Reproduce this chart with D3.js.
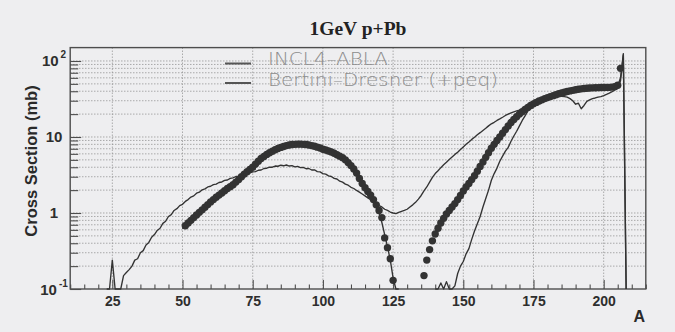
<!DOCTYPE html>
<html>
<head>
<meta charset="utf-8">
<script src="https://cdn.jsdelivr.net/npm/d3@7"></script>
<style>
  html, body { margin: 0; padding: 0; background: #eeeef0; }
  svg { display: block; }
</style>
</head>
<body>
<svg id="chart" width="675" height="332"></svg>
<script>
// ---------- data ----------
const titleText = "1GeV p+Pb";
const seriesNames = ["INCL4\u2013ABLA", "Bertini\u2013Dresner (+peq)"];
const xAxisLabel = "A";
const yAxisLabel = "Cross Section (mb)";

const xTickValues = [25, 50, 75, 100, 125, 150, 175, 200];
const yTickValues = [0.1, 1, 10, 100];
const yTickBase = ["10", "1", "10", "10"];
const yTickExp = ["-1", "", "", "2"];

// INCL4-ABLA, fission part (A = 50 ... 127), mb
const incl4FissionFirstA = 50;
const incl4Fission = [
  0.62, 0.68, 0.73, 0.80, 0.86, 0.95, 1.00, 1.10, 1.17, 1.28,
  1.36, 1.48, 1.57, 1.72, 1.80, 1.97, 2.05, 2.25, 2.33, 2.55,
  2.70, 2.98, 3.20, 3.45, 3.72, 3.95, 4.35, 4.70, 5.15, 5.50,
  5.85, 6.20, 6.45, 6.80, 7.00, 7.30, 7.45, 7.70, 7.80, 7.95,
  7.95, 8.10, 8.00, 8.05, 7.90, 7.85, 7.65, 7.55, 7.30, 7.20,
  6.85, 6.75, 6.50, 6.35, 6.05, 5.85, 5.55, 5.30, 4.95, 4.60,
  4.15, 3.80, 3.30, 2.90, 2.45, 2.20, 1.88, 1.70, 1.45, 1.25,
  1.00, 0.75, 0.52, 0.36, 0.24, 0.14, 0.085, 0
];

// INCL4-ABLA, spallation residues (A = 140 ... 208), mb
const incl4ResidueFirstA = 140;
const incl4Residue = [
  0, 0, 0.12, 0.09, 0.125, 0, 0, 0.11, 0.16, 0.20,
  0.23, 0.29, 0.34, 0.45, 0.58, 0.72, 0.90, 1.20, 1.55, 2.00,
  2.70, 3.30, 3.90, 4.80, 5.60, 6.50, 7.30, 8.80, 10.3, 11.9,
  14.0, 16.5, 19.0, 22.0, 25.5, 28.0, 29.3, 30.2, 31.0, 32.0,
  33.0, 34.0, 35.0, 36.0, 36.8, 37.6, 38.4, 39.2, 40.0, 40.6,
  41.2, 41.8, 42.2, 42.6, 43.0, 43.2, 43.4, 43.5, 43.6, 43.8,
  44.0, 44.2, 44.4, 44.6, 45.5, 47.0, 60.0, 125.0, 0
];

// Bertini-Dresner (+peq), A = 23 ... 208, mb
const bertiniFirstA = 23;
const bertini = [
  0, 0, 0.24, 0, 0, 0, 0.15, 0.165, 0.18, 0.20,
  0.24, 0.25, 0.30, 0.32, 0.38, 0.41, 0.48, 0.52, 0.59, 0.63,
  0.73, 0.78, 0.90, 0.95, 1.08, 1.14, 1.25, 1.30, 1.42, 1.50,
  1.62, 1.68, 1.82, 1.88, 2.02, 2.08, 2.20, 2.25, 2.36, 2.40,
  2.52, 2.56, 2.68, 2.72, 2.86, 2.90, 3.02, 3.06, 3.18, 3.20,
  3.33, 3.36, 3.48, 3.50, 3.65, 3.68, 3.85, 3.88, 4.02, 4.00,
  4.15, 4.12, 4.25, 4.18, 4.28, 4.15, 4.20, 4.05, 4.10, 3.95,
  3.98, 3.82, 3.85, 3.68, 3.70, 3.50, 3.48, 3.30, 3.25, 3.08,
  3.02, 2.85, 2.80, 2.62, 2.55, 2.40, 2.32, 2.18, 2.10, 1.98,
  1.88, 1.78, 1.68, 1.58, 1.50, 1.40, 1.33, 1.25, 1.20, 1.12,
  1.08, 1.03, 1.00, 0.98, 1.02, 1.05, 1.08, 1.12, 1.20, 1.28,
  1.38, 1.52, 1.70, 1.95, 2.20, 2.55, 2.95, 3.30, 3.60, 3.95,
  4.30, 4.65, 5.05, 5.45, 5.90, 6.30, 6.85, 7.40, 8.00, 8.60,
  9.30, 9.90, 10.7, 11.4, 12.2, 13.0, 14.0, 14.9, 15.6, 16.5,
  17.3, 18.2, 19.2, 20.0, 20.8, 21.4, 22.0, 22.6, 23.3, 24.0,
  25.0, 26.0, 27.2, 28.3, 29.4, 30.5, 31.4, 32.3, 33.0, 33.8,
  34.3, 34.6, 34.4, 34.0, 33.5, 32.0, 30.0, 27.0, 27.8, 23.5,
  26.0, 29.5, 30.8, 32.0, 32.6, 33.5, 34.0, 35.0, 36.3, 37.8,
  39.5, 41.5, 43.5, 55.0, 120.0, 0
];

// Measured cross sections: fission fragments (A = 51 ... 125), mb
const expFissionFirstA = 51;
const expFission = [
  0.68, 0.74, 0.80, 0.87, 0.94, 1.02, 1.10, 1.19, 1.29, 1.40,
  1.50, 1.61, 1.72, 1.83, 1.96, 2.10, 2.22, 2.35, 2.55, 2.75,
  3.00, 3.25, 3.50, 3.75, 4.00, 4.40, 4.80, 5.20, 5.55, 5.90,
  6.20, 6.50, 6.80, 7.05, 7.30, 7.50, 7.70, 7.85, 7.95, 8.00,
  8.05, 8.05, 8.00, 7.95, 7.85, 7.70, 7.55, 7.35, 7.15, 6.90,
  6.75, 6.55, 6.35, 6.10, 5.85, 5.60, 5.35, 5.00, 4.60, 4.20,
  3.80, 3.35, 2.85, 2.45, 2.15, 1.92, 1.72, 1.50, 1.28, 1.08,
  0.87, 0.47, 0.35, 0.25, 0.13
];

// Measured cross sections: spallation residues (A = 136 ... 206), mb
const expResidueFirstA = 136;
const expResidue = [
  0.15, 0.24, 0.33, 0.43, 0.53, 0.63, 0.74, 0.85, 0.97, 1.08,
  1.20, 1.33, 1.50, 1.70, 1.95, 2.20, 2.45, 2.75, 3.10, 3.55,
  4.10, 4.70, 5.40, 6.20, 7.10, 8.00, 9.00, 10.0, 11.2, 12.5,
  14.0, 15.5, 17.0, 18.5, 20.0, 21.5, 23.0, 24.5, 26.0, 27.3,
  28.5, 29.7, 30.8, 32.0, 33.0, 34.0, 35.0, 36.0, 37.0, 38.0,
  38.8, 39.6, 40.4, 41.1, 41.8, 42.4, 43.0, 43.4, 43.8, 44.1,
  44.3, 44.5, 44.6, 44.7, 44.8, 44.9, 45.0, 45.3, 46.0, 48.0,
  80.0
];

// ---------- layout ----------
const svg = d3.select("#chart");
const ink = "#333333";
const frameInk = "#4d4d4d";
const gridInk = "#8e8e8e";

const x = d3.scaleLinear().domain([10, 215]).range([70.2, 645.8]);
const y = d3.scaleLog().domain([0.1, 150]).range([289, 47.6]).clamp(true);
const [x0, x1] = x.range();
const [yB, yT] = y.range();

const toPoints = (firstA, values) => values.map((v, i) => ({ a: firstA + i, v }));
const yOf = v => y(Math.max(v, y.domain()[0]));

// ---------- grid ----------
const minorY = [];
[0.1, 1, 10].forEach(d => { for (let k = 1; k <= 9; k++) minorY.push(k * d); });
minorY.push(100);
const gridY = minorY.filter(v => v > 0.1);

const grid = svg.append("g");
grid.selectAll("line.hg").data(gridY).join("line")
  .attr("x1", x0).attr("x2", x1)
  .attr("y1", d => y(d)).attr("y2", d => y(d))
  .attr("stroke", gridInk).attr("stroke-width", 0.9)
  .attr("stroke-dasharray", "1.2,1.8");
grid.selectAll("line.vg").data(xTickValues).join("line")
  .attr("x1", d => x(d)).attr("x2", d => x(d))
  .attr("y1", yT).attr("y2", yB)
  .attr("stroke", gridInk).attr("stroke-width", 0.9)
  .attr("stroke-dasharray", "1.2,1.8");

// ---------- axes ----------
const minorX = d3.range(10, 216, 5).filter(v => !xTickValues.includes(v));
svg.append("g").attr("transform", `translate(0,${yB})`)
  .call(d3.axisBottom(x).tickValues(minorX).tickSize(-4.5).tickFormat(""))
  .call(g => g.select(".domain").remove())
  .call(g => g.selectAll("line").attr("stroke", frameInk).attr("stroke-width", 1.1));

svg.append("g").attr("transform", `translate(0,${yB})`)
  .call(d3.axisBottom(x).tickValues(xTickValues).tickSizeInner(-9).tickSizeOuter(0).tickPadding(7.5))
  .call(g => g.select(".domain").remove())
  .call(g => g.selectAll("line").attr("stroke", frameInk).attr("stroke-width", 1.1))
  .call(g => g.selectAll("text")
    .attr("fill", "#2e2e2e")
    .style("font-family", "'Liberation Sans', Arial, sans-serif")
    .style("font-weight", "bold").style("font-size", "14px"));

svg.append("g").attr("transform", `translate(${x0},0)`)
  .call(d3.axisLeft(y).tickValues(minorY.filter(v => !yTickValues.includes(v))).tickSize(-8).tickFormat(""))
  .call(g => g.select(".domain").remove())
  .call(g => g.selectAll("line").attr("stroke", frameInk).attr("stroke-width", 1.1));

svg.append("g").attr("transform", `translate(${x0},0)`)
  .call(d3.axisLeft(y).tickValues(yTickValues).tickSize(-11).tickFormat(""))
  .call(g => g.select(".domain").remove())
  .call(g => g.selectAll("line").attr("stroke", frameInk).attr("stroke-width", 1.1));

// y tick labels with powers of ten
const yLab = svg.append("g")
  .style("font-family", "'Liberation Sans', Arial, sans-serif")
  .style("font-weight", "bold").attr("fill", "#2e2e2e");
yTickValues.forEach((v, i) => {
  const t = yLab.append("text")
    .attr("x", 54).attr("y", y(v) + 5.5)
    .attr("text-anchor", "middle")
    .style("font-size", "15px");
  t.append("tspan").text(yTickBase[i]);
  if (yTickExp[i]) {
    t.append("tspan").text(yTickExp[i])
      .attr("dx", 2).attr("dy", -8)
      .style("font-size", "10px");
  }
});

// frame
svg.append("rect")
  .attr("x", x0).attr("y", yT)
  .attr("width", x1 - x0).attr("height", yB - yT)
  .attr("fill", "none").attr("stroke", frameInk).attr("stroke-width", 1.4);

// ---------- measured points ----------
const dots = svg.append("g").attr("fill", "#333333");
[toPoints(expFissionFirstA, expFission), toPoints(expResidueFirstA, expResidue)]
  .forEach(pts => {
    dots.selectAll(null).data(pts).join("circle")
      .attr("cx", d => x(d.a)).attr("cy", d => yOf(d.v)).attr("r", 3.7);
  });

// ---------- model curves ----------
const line = d3.line().x(d => x(d.a)).y(d => yOf(d.v));
const curves = [
  toPoints(bertiniFirstA, bertini),
  toPoints(incl4FissionFirstA, incl4Fission),
  toPoints(incl4ResidueFirstA, incl4Residue)
];
svg.append("g").selectAll("path").data(curves).join("path")
  .attr("d", line)
  .attr("fill", "none").attr("stroke", ink)
  .attr("stroke-width", 1.35).attr("stroke-linejoin", "round");

// ---------- legend ----------
const legend = svg.append("g");
const legendRows = [
  { name: seriesNames[0], ly: 63.5, ty: 64.5, len: 120 },
  { name: seriesNames[1], ly: 83, ty: 86, len: 230 }
];
legendRows.forEach(r => {
  legend.append("line")
    .attr("x1", 225).attr("x2", 251).attr("y1", r.ly).attr("y2", r.ly)
    .attr("stroke", "#555").attr("stroke-width", 2);
  legend.append("text")
    .attr("x", 268).attr("y", r.ty)
    .attr("textLength", r.len).attr("lengthAdjust", "spacingAndGlyphs")
    .attr("fill", "#8c8c8c")
    .style("font-family", "'DejaVu Sans', sans-serif")
    .style("font-weight", "300").style("font-size", "18px")
    .text(r.name);
});

// ---------- titles ----------
svg.append("text")
  .attr("x", 358).attr("y", 35).attr("text-anchor", "middle")
  .attr("fill", "#222")
  .style("font-family", "'Liberation Serif', 'Times New Roman', serif")
  .style("font-weight", "bold").style("font-size", "19.5px")
  .text(titleText);

svg.append("text")
  .attr("transform", "translate(37,161) rotate(-90)")
  .attr("text-anchor", "middle").attr("fill", "#2a2a2a")
  .style("font-family", "'Liberation Sans', Arial, sans-serif")
  .style("font-weight", "bold").style("font-size", "16.5px")
  .text(yAxisLabel);

svg.append("text")
  .attr("x", 645).attr("y", 322).attr("text-anchor", "end")
  .attr("fill", "#2a2a2a")
  .style("font-family", "'Liberation Sans', Arial, sans-serif")
  .style("font-weight", "bold").style("font-size", "16px")
  .text(xAxisLabel);
</script>
</body>
</html>
